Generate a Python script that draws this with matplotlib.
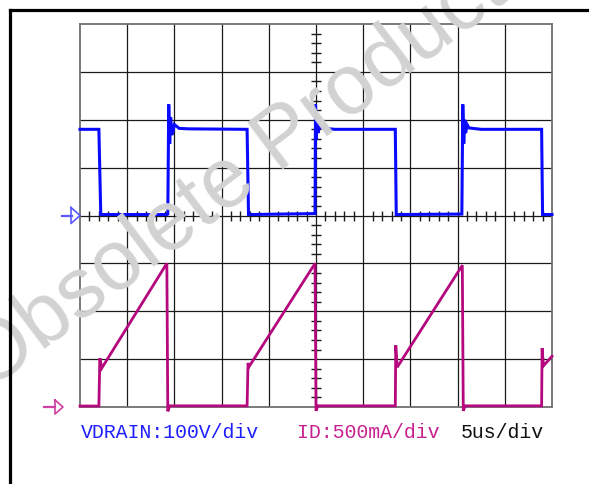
import matplotlib
matplotlib.use("Agg")
import matplotlib.pyplot as plt
from matplotlib.lines import Line2D
import numpy as np

# ---- data (time in us, 5 us/div; VDRAIN in V, 100 V/div; ID in mA, 500 mA/div)
vd_t = [0.0, 2.0, 2.2, 9.2, 9.3, 9.4, 9.5, 9.6, 9.75, 10.0, 10.5, 11.5, 17.7, 17.85,
        18.0, 24.9, 24.95, 25.0, 25.1, 25.2, 25.35, 25.5, 26.0, 27.0, 33.4, 33.5,
        33.6, 40.45, 40.55, 40.65, 40.75, 40.85, 41.0, 41.2, 41.6, 42.5, 48.9, 49.0, 50.0]
vd_v = [180, 180, 2, 2, 3, 232, 150, 205, 168, 190, 182, 181, 180, 2,
        2, 4, 232, 158, 200, 172, 188, 184, 182, 180, 180, 2,
        2, 3, 232, 150, 200, 172, 190, 183, 182, 180, 180, 2, 2]

id_t = [0.0, 2.0, 2.1, 2.3, 9.2, 9.3, 9.5, 17.7, 17.8, 17.9, 24.9, 25.0, 25.2,
        33.4, 33.45, 33.6, 40.5, 40.6, 40.8, 48.9, 48.95, 49.1, 50.0]
id_v = [10, 10, 510, 405, 1500, -45, 12, 12, 460, 420, 1500, -40, 12,
        12, 645, 415, 1480, -40, 12, 12, 615, 430, 530]

ch1_label = "VDRAIN:100V/div"
ch2_label = "ID:500mA/div"
tb_label = "5us/div"
watermark = "Obsolete Product(s)"

V_PER_DIV = 100.0
MA_PER_DIV = 500.0
US_PER_DIV = 5.0

W, H = 589, 484
fig = plt.figure(figsize=(W / 100, H / 100), dpi=100)
fig.patch.set_facecolor("white")

L, R, T, B = 80, 552, 24, 407
ax = fig.add_axes([L / W, 1 - B / H, (R - L) / W, (B - T) / H])
ax.set_xlim(0, 10)
ax.set_ylim(0, 8)
ax.set_facecolor("none")

# grid
for gx in range(1, 10):
    ax.axvline(gx, color="#1a1a1a", lw=0.9, zorder=1)
for gy in range(1, 8):
    ax.axhline(gy, color="#1a1a1a", lw=0.9, zorder=1)
for s in ax.spines.values():
    s.set_color("#707070")
    s.set_linewidth(1.3)
ax.set_xticks([])
ax.set_yticks([])

# center-line minor ticks
mx = [i * 0.2 for i in range(1, 50) if i % 5 != 0]
my = [i * 0.2 for i in range(1, 40) if i % 5 != 0]
ax.plot(mx, [4] * len(mx), ls="none", marker="|", ms=7, mew=1.0, color="#1a1a1a", zorder=2)
ax.plot([5] * len(my), my, ls="none", marker="_", ms=7, mew=1.0, color="#1a1a1a", zorder=2)

# watermark
fig.text(-12 / W, 1 - 392 / H, watermark, rotation=37, rotation_mode="anchor",
         fontsize=61, color="#d2d2d2", family="Liberation Sans",
         ha="left", va="baseline", zorder=0)

# traces
t1 = np.array(vd_t) / US_PER_DIV
y1 = 4 + np.array(vd_v) / V_PER_DIV
t2 = np.array(id_t) / US_PER_DIV
y2 = np.array(id_v) / MA_PER_DIV
ax.plot(t1, y1, color="#0a0aff", lw=2.2, zorder=5, clip_on=False, solid_joinstyle="miter")
ax.plot(t2, y2, color="#b5087f", lw=2.0, zorder=5, clip_on=False, solid_joinstyle="miter")

# ground markers (pixel offsets converted to divisions)
px_x = 10.0 / (R - L)   # divisions per pixel
px_y = 8.0 / (B - T)
def gmark(y, x0, x1, xb, xtip, hh, col):
    ax.plot([x0 * px_x, x1 * px_x], [y, y], color=col, lw=1.6, clip_on=False, zorder=4)
    ax.plot([xb * px_x, xtip * px_x, xb * px_x, xb * px_x],
            [y + hh * px_y, y, y - hh * px_y, y + hh * px_y],
            color=col, lw=1.2, clip_on=False, zorder=4)
gmark(4, -18, -8, -9, 0, 8, "#5a5aff")
gmark(0, -36, -25, -25, -17, 7, "#d040a0")

# labels
ty = 1 - 438 / H
fig.text(81 / W, ty, ch1_label, color="#1f1fff", family="Liberation Mono",
         fontsize=14.3, ha="left", va="baseline")
fig.text(297 / W, ty, ch2_label, color="#c8208f", family="Liberation Mono",
         fontsize=14.3, ha="left", va="baseline")
fig.text(461 / W, ty, tb_label, color="#111111", family="Liberation Mono",
         fontsize=14.3, ha="left", va="baseline")

# outer frame
fig.add_artist(Line2D([10 / W, 10 / W], [0, 1 - 10 / H], color="black", lw=2.3))
fig.add_artist(Line2D([10 / W, 1], [1 - 10 / H, 1 - 10 / H], color="black", lw=2.3))

fig.savefig("out.png", dpi=100)
